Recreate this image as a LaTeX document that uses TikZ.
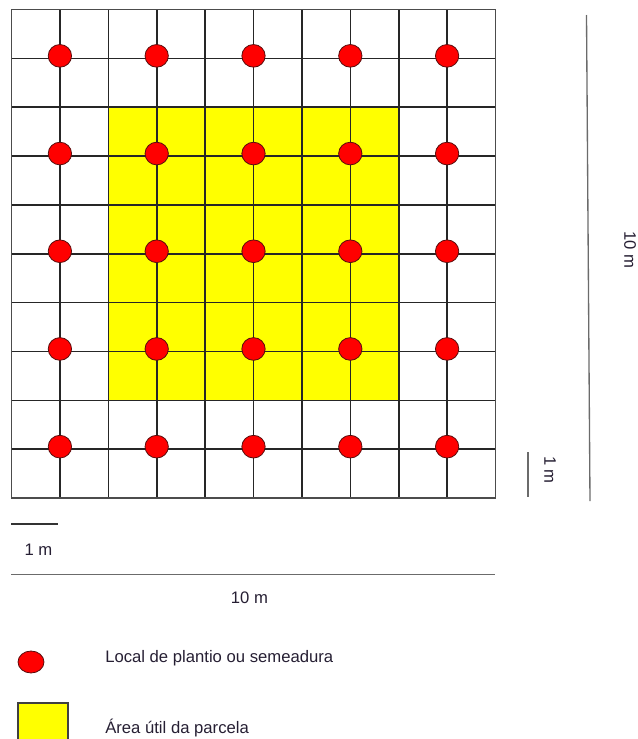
\documentclass[tikz,border=0pt]{standalone}
\usepackage{fontspec}
\setmainfont{Liberation Sans}
\usepackage{xcolor}
\definecolor{plotyellow}{rgb}{1.0, 1.0, 0.0}
\definecolor{pointred}{rgb}{1.0, 0.0, 0.0}
\definecolor{pointedge}{rgb}{0.35, 0.05, 0.05}
\definecolor{scalegray}{rgb}{0.42, 0.42, 0.42}
\definecolor{textdark}{rgb}{0.15, 0.12, 0.2}
\usetikzlibrary{positioning,shapes.geometric}
\tikzset{
  gridline/.style={draw=black!85,line width=1.2pt},
  border/.style={draw=black!70,line width=1.2pt},
  usefularea/.style={fill=plotyellow},
  point/.style={ellipse,draw=pointedge,line width=0.6pt,fill=pointred,inner sep=0pt,minimum width=17.5pt,minimum height=17pt},
  legpoint/.style={point,minimum width=19.5pt,minimum height=16.5pt},
  legarea/.style={rectangle,draw=black!75,line width=0.8pt,fill=plotyellow,inner sep=0pt,minimum width=37.5pt,minimum height=33pt},
  scalebar/.style={draw=scalegray,line width=1pt},
  txt/.style={font=\fontsize{12.5}{14}\selectfont,text=textdark,inner sep=0pt}
}

\begin{document}
\begin{tikzpicture}[x=0.75pt,y=-0.75pt]
  \useasboundingbox (0,0) rectangle (638,739);
  \clip (0,0) rectangle (638,739);

  % useful area of the plot
  \fill[usefularea] (108.3,107.2) rectangle (398.7,400.3);

  % 10 x 10 grid of 1 m cells
  \foreach \i in {0,...,10} {
    \draw[gridline] ({11.5+48.4*\i},9.5) -- ({11.5+48.4*\i},498);
    \draw[gridline] (11.5,{9.5+48.85*\i}) -- (495.5,{9.5+48.85*\i});
  }
  \draw[border] (11.5,9.5) rectangle (495.5,498);

  % planting points
  \foreach \c in {0,...,4} {
    \foreach \r in {0,...,4} {
      \node[point] (p-\c-\r) at ({11.5+48.4*(2*\c+1)},{7+48.85*(2*\r+1)}) {};
    }
  }

  % scales
  \coordinate (vlongtop) at (586.5,15);
  \coordinate (vlongbot) at (590,501);
  \draw[scalebar] (vlongtop) -- (vlongbot);
  \node[txt,rotate=-90] (vlonglbl) at (630,250) {10 m};

  \coordinate (vshorttop) at (528,452);
  \coordinate (vshortbot) at (528,497);
  \draw[scalebar] (vshorttop) -- (vshortbot);
  \node[txt,rotate=-90] (vshortlbl) at (550,470) {1 m};

  \coordinate (hshortl) at (11,524);
  \coordinate (hshortr) at (58,524);
  \draw[scalebar,draw=black!80] (hshortl) -- (hshortr);
  \node[txt,anchor=base] (hshortlbl) at (38.5,555) {1 m};

  \coordinate (hlongl) at (11,574.5);
  \coordinate (hlongr) at (495,574.5);
  \draw[scalebar] (hlongl) -- (hlongr);
  \node[txt,anchor=base] (hlonglbl) at (249.5,603) {10 m};

  % legend
  \node[legpoint] (legpt) at (31,662) {};
  \node[txt,anchor=base west] (legpttxt) at (105,662) {Local de plantio ou semeadura};
  \node[legarea] (legar) at (43,725) {};
  \node[txt,anchor=base west] (legartxt) at (105,733) {Área útil da parcela};
\end{tikzpicture}
\end{document}
